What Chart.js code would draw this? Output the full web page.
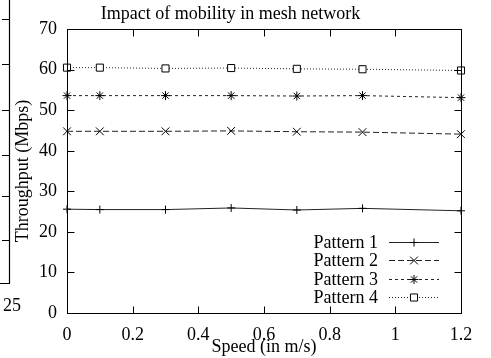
<!DOCTYPE html>
<html lang="en">
<head>
  <meta charset="UTF-8" />
  <title>Impact of mobility in mesh network</title>
  <script src="https://cdn.jsdelivr.net/npm/chart.js"></script>
  <style>
    html, body { margin: 0; padding: 0; background: #fff; overflow: hidden; }
    canvas { display: block; }
  </style>
</head>
<body>
  <canvas id="mobilityChart" width="491" height="358"></canvas>

  <script>
    // speeds (m/s) measured
    const speeds = [0, 0.1, 0.3, 0.5, 0.7, 0.9, 1.2];

    // throughput (Mbps) per pattern
    const pattern1 = [25.6, 25.5, 25.5, 25.9, 25.4, 25.8, 25.2];
    const pattern2 = [44.8, 44.8, 44.8, 44.9, 44.7, 44.6, 44.1];
    const pattern3 = [53.6, 53.6, 53.6, 53.6, 53.5, 53.6, 53.1];
    const pattern4 = [60.5, 60.5, 60.3, 60.4, 60.2, 60.1, 59.8];

    const seriesNames = ["Pattern 1", "Pattern 2", "Pattern 3", "Pattern 4"];
    const xTicks = [0, 0.2, 0.4, 0.6, 0.8, 1, 1.2];
    const yTicks = [0, 10, 20, 30, 40, 50, 60, 70];

    const serif = '"Liberation Serif", "Times New Roman", serif';
    const fs = 18;

    function pts(ys) {
      return speeds.map((x, i) => ({ x: x, y: ys[i] }));
    }

    const styles = [
      { dash: [], point: "cross", r: 4 },
      { dash: [6, 3], point: "crossRot", r: 5.5 },
      { dash: [3, 3], point: "star", r: 4.5 },
      { dash: [1, 2], point: "rect", r: 5 }
    ];

    const datasets = [pattern1, pattern2, pattern3, pattern4].map((ys, i) => ({
      label: seriesNames[i],
      data: pts(ys),
      borderColor: "#222",
      borderWidth: 1,
      borderDash: styles[i].dash,
      pointStyle: styles[i].point,
      pointRadius: styles[i].r,
      pointBorderColor: "#000",
      pointBackgroundColor: "#fff",
      pointBorderWidth: 1,
      tension: 0,
      clip: false
    }));

    // box, inward ticks (gnuplot style), legend on the inside
    const framePlugin = {
      id: "frame",
      afterDraw(chart) {
        const ctx = chart.ctx;
        const a = chart.chartArea;
        const xs = chart.scales.x, ys = chart.scales.y;
        const L = Math.round(a.left) + 0.5, R = Math.round(a.right) + 0.5;
        const T = Math.round(a.top) + 0.5, B = Math.round(a.bottom) + 0.5;
        ctx.save();
        ctx.strokeStyle = "#000";
        ctx.lineWidth = 1;
        ctx.setLineDash([]);
        ctx.strokeRect(L, T, R - L, B - T);
        ctx.beginPath();
        const tl = 7;
        xTicks.forEach(v => {
          const px = Math.round(xs.getPixelForValue(v)) + 0.5;
          ctx.moveTo(px, B); ctx.lineTo(px, B - tl);
          ctx.moveTo(px, T); ctx.lineTo(px, T + tl);
        });
        yTicks.forEach(v => {
          const py = Math.round(ys.getPixelForValue(v)) + 0.5;
          ctx.moveTo(L, py); ctx.lineTo(L + tl, py);
          ctx.moveTo(R, py); ctx.lineTo(R - tl, py);
        });
        ctx.stroke();

        // legend: label, then line sample with marker
        ctx.font = fs + "px " + serif;
        ctx.textAlign = "right";
        ctx.textBaseline = "middle";
        const n = chart.data.datasets.length;
        chart.data.datasets.forEach((ds, i) => {
          const y = Math.round(a.bottom - 16 - (n - 1 - i) * 18.5) + 0.5;
          ctx.fillStyle = "#000";
          ctx.fillText(ds.label, a.right - 83, y + 1);
          ctx.beginPath();
          ctx.setLineDash(ds.borderDash);
          ctx.strokeStyle = ds.borderColor;
          ctx.moveTo(a.right - 72, y);
          ctx.lineTo(a.right - 22, y);
          ctx.stroke();
          ctx.setLineDash([]);
          ctx.strokeStyle = "#000";
          ctx.fillStyle = "#fff";
          Chart.helpers.drawPoint(ctx, {
            pointStyle: ds.pointStyle, radius: ds.pointRadius, rotation: 0, borderWidth: 1
          }, a.right - 47, y);
        });
        ctx.restore();
      }
    };

    // edge of the neighbouring figure, clipped at the left of the picture
    const neighbourPlugin = {
      id: "neighbour",
      afterDraw(chart) {
        const ctx = chart.ctx;
        ctx.save();
        ctx.strokeStyle = "#000";
        ctx.lineWidth = 1.2;
        ctx.beginPath();
        ctx.moveTo(9.5, 0); ctx.lineTo(9.5, 283.5); ctx.lineTo(0, 283.5);
        [19, 64, 110, 155, 196, 240].forEach(y => {
          ctx.moveTo(9.5, y + 0.5); ctx.lineTo(2, y + 0.5);
        });
        ctx.stroke();
        ctx.font = fs + "px " + serif;
        ctx.fillStyle = "#000";
        ctx.textAlign = "center";
        ctx.textBaseline = "middle";
        ctx.fillText("25", 12, 306);
        ctx.restore();
      }
    };

    const ctx = document.getElementById("mobilityChart").getContext("2d");
    new Chart(ctx, {
      type: "line",
      data: { datasets: datasets },
      options: {
        responsive: false,
        animation: false,
        devicePixelRatio: 1,
        layout: { padding: { left: 0, right: 30, top: 0, bottom: 0 } },
        plugins: {
          legend: { display: false },
          tooltip: { enabled: false },
          title: {
            display: true,
            text: "Impact of mobility in mesh network",
            color: "#000",
            font: { family: serif, size: fs, weight: "normal" },
            padding: { top: 3.5, bottom: 4 }
          }
        },
        scales: {
          x: {
            type: "linear",
            min: 0,
            max: 1.2,
            afterBuildTicks: s => { s.ticks = xTicks.map(v => ({ value: v })); },
            afterFit: s => { s.height = 45; },
            grid: { display: false, drawTicks: false },
            border: { display: false },
            ticks: {
              color: "#000",
              padding: 11,
              maxRotation: 0,
              font: { family: serif, size: fs },
              callback: v => String(v)
            },
            title: {
              display: true,
              text: "Speed (in m/s)",
              color: "#000",
              font: { family: serif, size: fs },
              padding: { top: 0, bottom: 0 }
            }
          },
          y: {
            min: 0,
            max: 70,
            afterBuildTicks: s => { s.ticks = yTicks.map(v => ({ value: v })); },
            afterFit: s => { s.width = 67; },
            grid: { display: false, drawTicks: false },
            border: { display: false },
            ticks: {
              color: "#000",
              padding: 10,
              font: { family: serif, size: fs }
            },
            title: {
              display: true,
              text: "Throughput (Mbps)",
              color: "#000",
              font: { family: serif, size: fs },
              padding: { top: 12, bottom: 0 }
            }
          }
        }
      },
      plugins: [framePlugin, neighbourPlugin]
    });
  </script>
</body>
</html>
